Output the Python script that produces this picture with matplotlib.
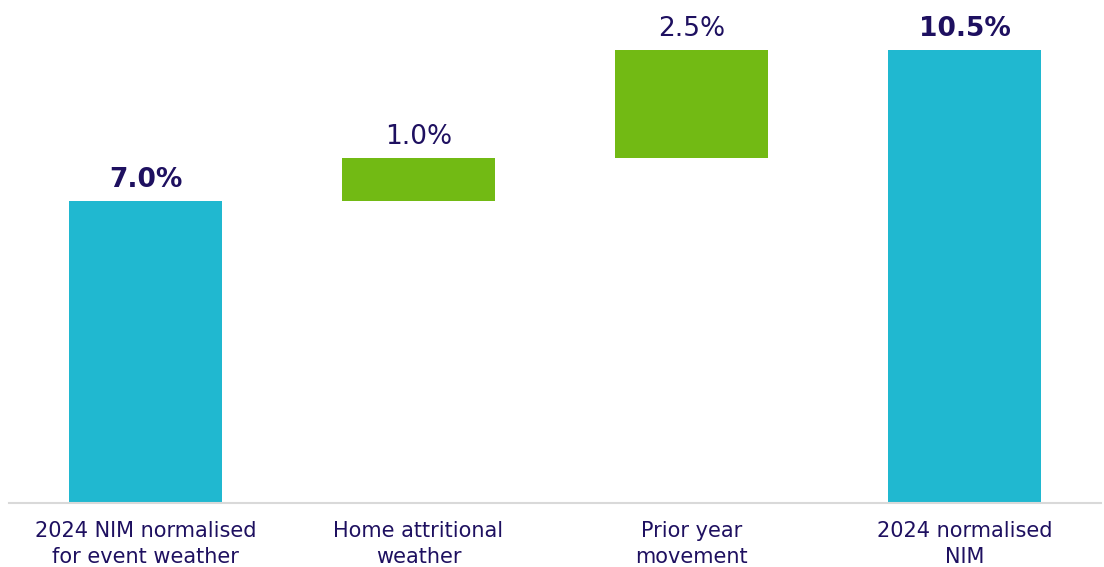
import matplotlib
matplotlib.use("Agg")
import matplotlib.pyplot as plt

categories = ["2024 NIM normalised\nfor event weather", "Home attritional\nweather",
              "Prior year\nmovement", "2024 normalised\nNIM"]
values = [7.0, 1.0, 2.5, 10.5]
kinds = ["total", "delta", "delta", "total"]
labels = ["7.0%", "1.0%", "2.5%", "10.5%"]

cyan = "#20B8D0"
green = "#72BA14"
navy = "#1E1060"

fig = plt.figure(figsize=(11.04, 5.67), dpi=100)
ax = fig.add_axes([9/1104, 64/567, 1092/1104, 496/567])

running = 0.0
for i, (v, k, lab) in enumerate(zip(values, kinds, labels)):
    if k == "total":
        bottom = 0.0
        running = v
        color = cyan
        weight = "bold"
    else:
        bottom = running
        running += v
        color = green
        weight = "normal"
    ax.bar(i, v, bottom=bottom, width=0.557, color=color, zorder=2)
    ax.annotate(lab, (i, bottom + v), xytext=(0, 6), textcoords="offset points",
                ha="center", va="bottom", fontsize=19, color=navy, fontweight=weight)

ax.set_xlim(-0.5, 3.5)
ax.set_ylim(0, 11.5)
ax.set_xticks(range(len(categories)))
ax.set_xticklabels(categories, fontsize=15, color=navy, linespacing=1.35)
ax.tick_params(axis="x", length=0, pad=13)
ax.set_yticks([])
for s in ["top", "right", "left"]:
    ax.spines[s].set_visible(False)
ax.spines["bottom"].set_color("#D9D9D9")
ax.spines["bottom"].set_linewidth(1.5)

fig.savefig("out.png", dpi=100)
